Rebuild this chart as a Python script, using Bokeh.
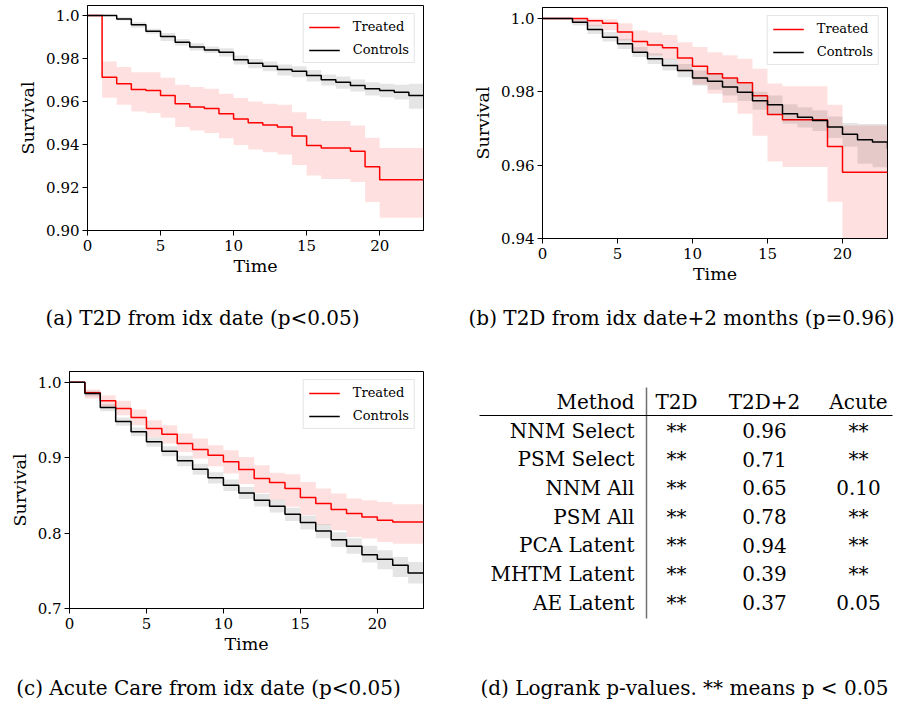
from bokeh.plotting import figure
from bokeh.models import Range1d, FixedTicker, Legend, LegendItem
from bokeh.layouts import column, row
from bokeh.embed import file_html
from bokeh.resources import INLINE
from bokeh.core.properties import value

FONT = "DejaVu Serif"

# ---------------- data ----------------
time = list(range(24))
x_ticks = [0, 5, 10, 15, 20]

# (a) T2D from idx date
a_tr = [1.0, 0.9713, 0.9682, 0.9656, 0.9651, 0.9628, 0.9589, 0.9574, 0.9567, 0.9543, 0.9519, 0.9501,
        0.9491, 0.9481, 0.9439, 0.9395, 0.9384, 0.9384, 0.9369, 0.9296, 0.9236, 0.9236, 0.9236, 0.9236]
a_tr_hi = [1.0, 0.9786, 0.9760, 0.9736, 0.9736, 0.9710, 0.9678, 0.9667, 0.9659, 0.9636, 0.9616, 0.9600,
           0.9589, 0.9585, 0.9550, 0.9519, 0.9509, 0.9509, 0.9488, 0.9431, 0.9384, 0.9384, 0.9384, 0.9384]
a_tr_lo = [1.0, 0.9617, 0.9585, 0.9553, 0.9546, 0.9524, 0.9481, 0.9465, 0.9454, 0.9429, 0.9398, 0.9377,
           0.9364, 0.9353, 0.9305, 0.9256, 0.9240, 0.9240, 0.9225, 0.9132, 0.9059, 0.9059, 0.9059, 0.9059]
a_ct = [1.0, 1.0, 0.9984, 0.9957, 0.9927, 0.9902, 0.9876, 0.9853, 0.9840, 0.9829, 0.9794, 0.9778,
        0.9764, 0.9749, 0.9741, 0.9721, 0.9701, 0.9690, 0.9674, 0.9659, 0.9651, 0.9643, 0.9628, 0.9628]
a_ct_hi = [1.0, 1.0, 0.9992, 0.9969, 0.9938, 0.9919, 0.9891, 0.9871, 0.9856, 0.9848, 0.9814, 0.9798,
           0.9786, 0.9772, 0.9764, 0.9747, 0.9726, 0.9716, 0.9702, 0.9690, 0.9682, 0.9678, 0.9682, 0.9682]
a_ct_lo = [1.0, 1.0, 0.9977, 0.9943, 0.9915, 0.9881, 0.9860, 0.9837, 0.9825, 0.9809, 0.9772, 0.9755,
           0.9741, 0.9721, 0.9713, 0.9693, 0.9674, 0.9659, 0.9647, 0.9628, 0.9620, 0.9609, 0.9566, 0.9566]
a_yticks = [0.90, 0.92, 0.94, 0.96, 0.98, 1.0]
a_ylabels = ["0.90", "0.92", "0.94", "0.96", "0.98", "1.0"]

# (b) T2D from idx date + 2 months
b_tr = [1.0, 1.0, 1.0, 0.9994, 0.9987, 0.9963, 0.9937, 0.9928, 0.9920, 0.9892, 0.9870, 0.9849,
        0.9838, 0.9825, 0.9789, 0.9738, 0.9724, 0.9724, 0.9724, 0.9651, 0.9581, 0.9581, 0.9581, 0.9581]
b_tr_hi = [1.0, 1.0, 1.0, 1.0, 0.9998, 0.9987, 0.9967, 0.9962, 0.9955, 0.9935, 0.9922, 0.9908,
           0.9900, 0.9890, 0.9863, 0.9823, 0.9815, 0.9815, 0.9815, 0.9765, 0.9708, 0.9708, 0.9708, 0.9708]
b_tr_lo = [1.0, 1.0, 0.9990, 0.9979, 0.9968, 0.9940, 0.9911, 0.9899, 0.9889, 0.9855, 0.9820, 0.9795,
           0.9770, 0.9740, 0.9680, 0.9610, 0.9595, 0.9595, 0.9595, 0.9500, 0.9380, 0.9380, 0.9380, 0.9380]
b_ct = [1.0, 1.0, 0.9990, 0.9970, 0.9949, 0.9931, 0.9908, 0.9890, 0.9872, 0.9858, 0.9838, 0.9829,
        0.9813, 0.9799, 0.9776, 0.9765, 0.9740, 0.9731, 0.9722, 0.9704, 0.9684, 0.9669, 0.9663, 0.9645]
b_ct_hi = [1.0, 1.0, 0.9997, 0.9983, 0.9963, 0.9945, 0.9922, 0.9905, 0.9890, 0.9876, 0.9858, 0.9850,
           0.9836, 0.9822, 0.9800, 0.9790, 0.9766, 0.9758, 0.9750, 0.9733, 0.9715, 0.9712, 0.9712, 0.9712]
b_ct_lo = [1.0, 1.0, 0.9981, 0.9958, 0.9937, 0.9917, 0.9895, 0.9876, 0.9858, 0.9840, 0.9817, 0.9806,
           0.9790, 0.9775, 0.9751, 0.9738, 0.9713, 0.9703, 0.9693, 0.9674, 0.9650, 0.9604, 0.9594, 0.9594]
b_yticks = [0.94, 0.96, 0.98, 1.0]
b_ylabels = ["0.94", "0.96", "0.98", "1.0"]

# (c) Acute care from idx date
c_tr = [1.0, 0.9859, 0.9753, 0.9651, 0.9532, 0.9386, 0.9311, 0.9187, 0.9107, 0.9032, 0.8944, 0.8844,
        0.8722, 0.8669, 0.8590, 0.8471, 0.8391, 0.8312, 0.8259, 0.8214, 0.8170, 0.8148, 0.8148, 0.8148]
c_tr_hi = [1.0, 0.9903, 0.9828, 0.9753, 0.9638, 0.9496, 0.9430, 0.9319, 0.9253, 0.9165, 0.9099, 0.9010,
           0.8900, 0.8800, 0.8780, 0.8678, 0.8590, 0.8523, 0.8457, 0.8435, 0.8413, 0.8382, 0.8382, 0.8382]
c_tr_lo = [1.0, 0.9783, 0.9673, 0.9563, 0.9430, 0.9275, 0.9187, 0.9076, 0.8988, 0.8886, 0.8789, 0.8650,
           0.8530, 0.8440, 0.8350, 0.8236, 0.8110, 0.8037, 0.7949, 0.7927, 0.7882, 0.7860, 0.7860, 0.7860]
c_ct = [1.0, 0.9850, 0.9664, 0.9479, 0.9342, 0.9209, 0.9085, 0.8957, 0.8847, 0.8732, 0.8634, 0.8532,
        0.8435, 0.8355, 0.8249, 0.8139, 0.8028, 0.7913, 0.7825, 0.7714, 0.7653, 0.7573, 0.7471, 0.7471]
c_ct_hi = [1.0, 0.9885, 0.9712, 0.9533, 0.9400, 0.9271, 0.9150, 0.9025, 0.8918, 0.8805, 0.8710, 0.8612,
           0.8518, 0.8445, 0.8337, 0.8230, 0.8120, 0.8010, 0.7930, 0.7832, 0.7772, 0.7683, 0.7618, 0.7618]
c_ct_lo = [1.0, 0.9812, 0.9614, 0.9422, 0.9282, 0.9145, 0.9017, 0.8887, 0.8774, 0.8657, 0.8556, 0.8452,
           0.8352, 0.8272, 0.8160, 0.8047, 0.7930, 0.7815, 0.7725, 0.7610, 0.7520, 0.7418, 0.7330, 0.7330]
c_yticks = [0.7, 0.8, 0.9, 1.0]
c_ylabels = ["0.7", "0.8", "0.9", "1.0"]

# (d) Logrank p-values table
headers = ["Method", "T2D", "T2D+2", "Acute"]
methods = ["NNM Select", "PSM Select", "NNM All", "PSM All", "PCA Latent", "MHTM Latent", "AE Latent"]
p_t2d = ["**", "**", "**", "**", "**", "**", "**"]
p_t2d2 = ["0.96", "0.71", "0.65", "0.78", "0.94", "0.39", "0.37"]
p_acute = ["**", "**", "0.10", "**", "**", "**", "0.05"]

captions = ["(a) T2D from idx date (p<0.05)",
            "(b) T2D from idx date+2 months (p=0.96)",
            "(c) Acute Care from idx date (p<0.05)",
            "(d) Logrank p-values. ** means p < 0.05"]


# ---------------- helpers ----------------
def km_panel(width, height, borders, y_rng, yticks, ylabels,
             tr, tr_hi, tr_lo, ct, ct_hi, ct_lo, legend_margin):
    left, right, top, bottom = borders
    p = figure(width=width, height=height,
               x_range=Range1d(0, 23), y_range=Range1d(*y_rng),
               output_backend="svg", toolbar_location=None,
               min_border_left=left, min_border_right=right,
               min_border_top=top, min_border_bottom=bottom,
               background_fill_color="white", border_fill_color="white")
    p.frame_align = False
    p.varea_step(x=time, y1=tr_lo, y2=tr_hi, step_mode="after",
                 fill_color="red", fill_alpha=0.12)
    r1 = p.step(time, tr, mode="after", line_color="red", line_width=1.5)
    p.varea_step(x=time, y1=ct_lo, y2=ct_hi, step_mode="after",
                 fill_color="black", fill_alpha=0.10)
    r2 = p.step(time, ct, mode="after", line_color="black", line_width=1.5)

    legend = Legend(items=[LegendItem(label="Treated", renderers=[r1]),
                           LegendItem(label="Controls", renderers=[r2])],
                    location="top_right", margin=legend_margin,
                    padding=5, spacing=8, glyph_width=31, glyph_height=14,
                    label_height=14, label_standoff=13,
                    label_text_font=FONT, label_text_font_size="13px",
                    label_text_color="black",
                    border_line_color="#cccccc", border_line_width=1,
                    background_fill_color="white", background_fill_alpha=0.8)
    p.add_layout(legend)

    p.grid.visible = False
    p.outline_line_color = "black"
    p.outline_line_width = 1
    p.outline_line_alpha = 1

    p.xaxis.ticker = FixedTicker(ticks=x_ticks)
    p.yaxis.ticker = FixedTicker(ticks=yticks)
    p.yaxis.major_label_overrides = dict(zip(yticks, ylabels))
    p.xaxis.axis_label = "Time"
    p.yaxis.axis_label = "Survival"
    for ax in (p.xaxis[0], p.yaxis[0]):
        ax.axis_line_color = "black"
        ax.major_tick_line_color = "black"
        ax.minor_tick_line_color = None
        ax.major_tick_in = 0
        ax.major_tick_out = 5
        ax.major_label_text_font = FONT
        ax.major_label_text_font_size = "15px"
        ax.major_label_text_color = "black"
        ax.axis_label_text_font = FONT
        ax.axis_label_text_font_size = "17.5px"
        ax.axis_label_text_font_style = "normal"
        ax.axis_label_text_color = "black"
    p.xaxis.major_label_standoff = 4
    p.xaxis.axis_label_standoff = 2
    p.yaxis.major_label_standoff = 3
    p.yaxis.axis_label_standoff = 5
    return p


def blank(width, height):
    p = figure(width=width, height=height,
               x_range=Range1d(0, width), y_range=Range1d(height, 0),
               output_backend="svg", toolbar_location=None,
               x_axis_location=None, y_axis_location=None,
               min_border=0, background_fill_color="white",
               border_fill_color="white")
    p.frame_align = False
    p.grid.visible = False
    p.outline_line_color = None
    return p


def caption_fig(width, height, cx, cy, text, size="20px"):
    p = blank(width, height)
    p.text(x=[cx], y=[cy], text=[text], text_font=value(FONT),
           text_font_size=size, text_align="center",
           text_baseline="middle", text_color="black")
    return p


# ---------------- panels ----------------
W_L, W_R = 460, 452
H_ROW1, H_CAP1, H_ROW2, H_CAP2 = 295, 45, 325, 37

pa = km_panel(W_L, H_ROW1, (87, 37, 5, 65), (0.90, 1.00465), a_yticks, a_ylabels,
              a_tr, a_tr_hi, a_tr_lo, a_ct, a_ct_hi, a_ct_lo, 8)
pb = km_panel(W_R, H_ROW1, (82, 25, 7, 57), (0.94, 1.0030), b_yticks, b_ylabels,
              b_tr, b_tr_hi, b_tr_lo, b_ct, b_ct_hi, b_ct_lo, 8)
pc = km_panel(W_L, H_ROW2, (69, 37, 31, 57), (0.70, 1.01418), c_yticks, c_ylabels,
              c_tr, c_tr_hi, c_tr_lo, c_ct, c_ct_hi, c_ct_lo, 8)

# table
pd = blank(W_R, H_ROW2)
col_x = [174, 216, 304, 398]
header_y = 61
row_y0, row_step = 90, 28.67
row_ys = [row_y0 + i * row_step for i in range(len(methods))]
pd.text(x=[col_x[0]], y=[header_y], text=[headers[0]], text_font=value(FONT),
        text_font_size="20px", text_align="right", text_baseline="middle", text_color="black")
pd.text(x=col_x[1:], y=[header_y] * 3, text=headers[1:], text_font=value(FONT),
        text_font_size="20px", text_align="center", text_baseline="middle", text_color="black")
pd.text(x=[col_x[0]] * len(methods), y=row_ys, text=methods, text_font=value(FONT),
        text_font_size="20px", text_align="right", text_baseline="middle", text_color="black")
for cx, vals in zip(col_x[1:], (p_t2d, p_t2d2, p_acute)):
    pd.text(x=[cx] * len(vals), y=row_ys, text=vals, text_font=value(FONT),
            text_font_size="20px", text_align="center", text_baseline="middle", text_color="black")
pd.segment(x0=[186], y0=[47], x1=[186], y1=[278], line_color="#707070", line_width=1.5)
pd.segment(x0=[19], y0=[75], x1=[432], y1=[75], line_color="black", line_width=1.2)

capa = caption_fig(W_L, H_CAP1, 202, 22, captions[0])
capb = caption_fig(W_R, H_CAP1, 221, 22, captions[1])
capc = caption_fig(W_L, H_CAP2, 208, 22, captions[2])
capd = caption_fig(W_R, H_CAP2, 224, 22, captions[3])

layout = column(row(pa, pb), row(capa, capb), row(pc, pd), row(capc, capd))

open("out.html", "w").write(file_html(layout, INLINE))
